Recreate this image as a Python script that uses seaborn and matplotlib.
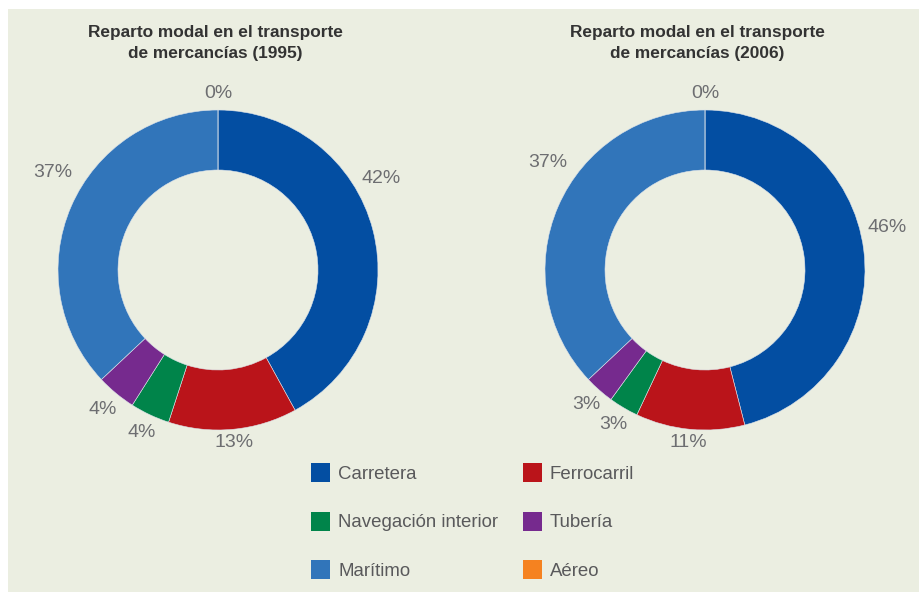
import matplotlib
matplotlib.use("Agg")
import matplotlib.pyplot as plt
import seaborn as sns
import numpy as np
from matplotlib.patches import Patch, Rectangle

# Data (percent of freight transport by mode)
modes = ["Carretera", "Ferrocarril", "Navegación interior", "Tubería", "Marítimo", "Aéreo"]
share_1995 = [42, 13, 4, 4, 37, 0]
share_2006 = [46, 11, 3, 3, 37, 0]
titles = ["Reparto modal en el transporte\nde mercancías (1995)",
          "Reparto modal en el transporte\nde mercancías (2006)"]

colors = ["#034EA2", "#BA141A", "#00844A", "#762A8E", "#3175BA", "#F58220"]
bg = "#EBEEE1"

sns.set_theme(style="white")
plt.rcParams["font.family"] = ["Liberation Sans", "DejaVu Sans"]

fig = plt.figure(figsize=(9.2, 5.92), dpi=100, facecolor="white")
fig.patches.append(Rectangle((8 / 920, 0), 1, (592 - 9) / 592, transform=fig.transFigure,
                             facecolor=bg, edgecolor="none", zorder=-1))

# label angle nudges (degrees) so text sits like the original
nudges = [[-15, 0, 0, 0, 7, 0], [-6, 0, 0, 0, 11, 0]]
label_r = [[1.17, 1.08, 1.12, 1.13, 1.2, 1.1], [1.17, 1.08, 1.12, 1.12, 1.19, 1.1]]

centers = [218, 705]
title_x = [215, 697]
R = 160
for i, (vals, title, cx) in enumerate(zip([share_1995, share_2006], titles, centers)):
    ax = fig.add_axes([(cx - R) / 920, (592 - 430) / 592, 2 * R / 920, 2 * R / 592])
    ax.set_facecolor("none")
    wedges, _ = ax.pie(vals, colors=colors, startangle=90, counterclock=False, radius=1,
                       wedgeprops=dict(width=0.375, edgecolor="#DDE3EA", linewidth=0.4))
    for j, w in enumerate(wedges):
        ang = np.deg2rad((w.theta1 + w.theta2) / 2 - nudges[i][j])
        r = label_r[i][j]
        ax.text(r * np.cos(ang), r * np.sin(ang), f"{vals[j]}%", ha="center", va="center",
                fontsize=14, color="#6D6E71")
    ax.set_xlim(-1, 1)
    ax.set_ylim(-1, 1)
    ax.axis("off")
    fig.text(title_x[i] / 920, (592 - 43) / 592, title, ha="center", va="center",
             fontsize=12.4, fontweight="bold", color="#333333", linespacing=1.5)

order = [0, 2, 4, 1, 3, 5]
handles = [Patch(facecolor=colors[k], edgecolor="none", label=modes[k]) for k in order]
leg = fig.legend(handles=handles, ncol=2, loc="upper left", bbox_to_anchor=(311 / 920, 1 - 463 / 592),
                 frameon=False, fontsize=13.4, labelcolor="#59595B", handlelength=1.02,
                 handleheight=1.19, handletextpad=0.45, labelspacing=1.55, columnspacing=1.3,
                 borderpad=0, borderaxespad=0)

fig.savefig("out.png", dpi=100, facecolor="white")
